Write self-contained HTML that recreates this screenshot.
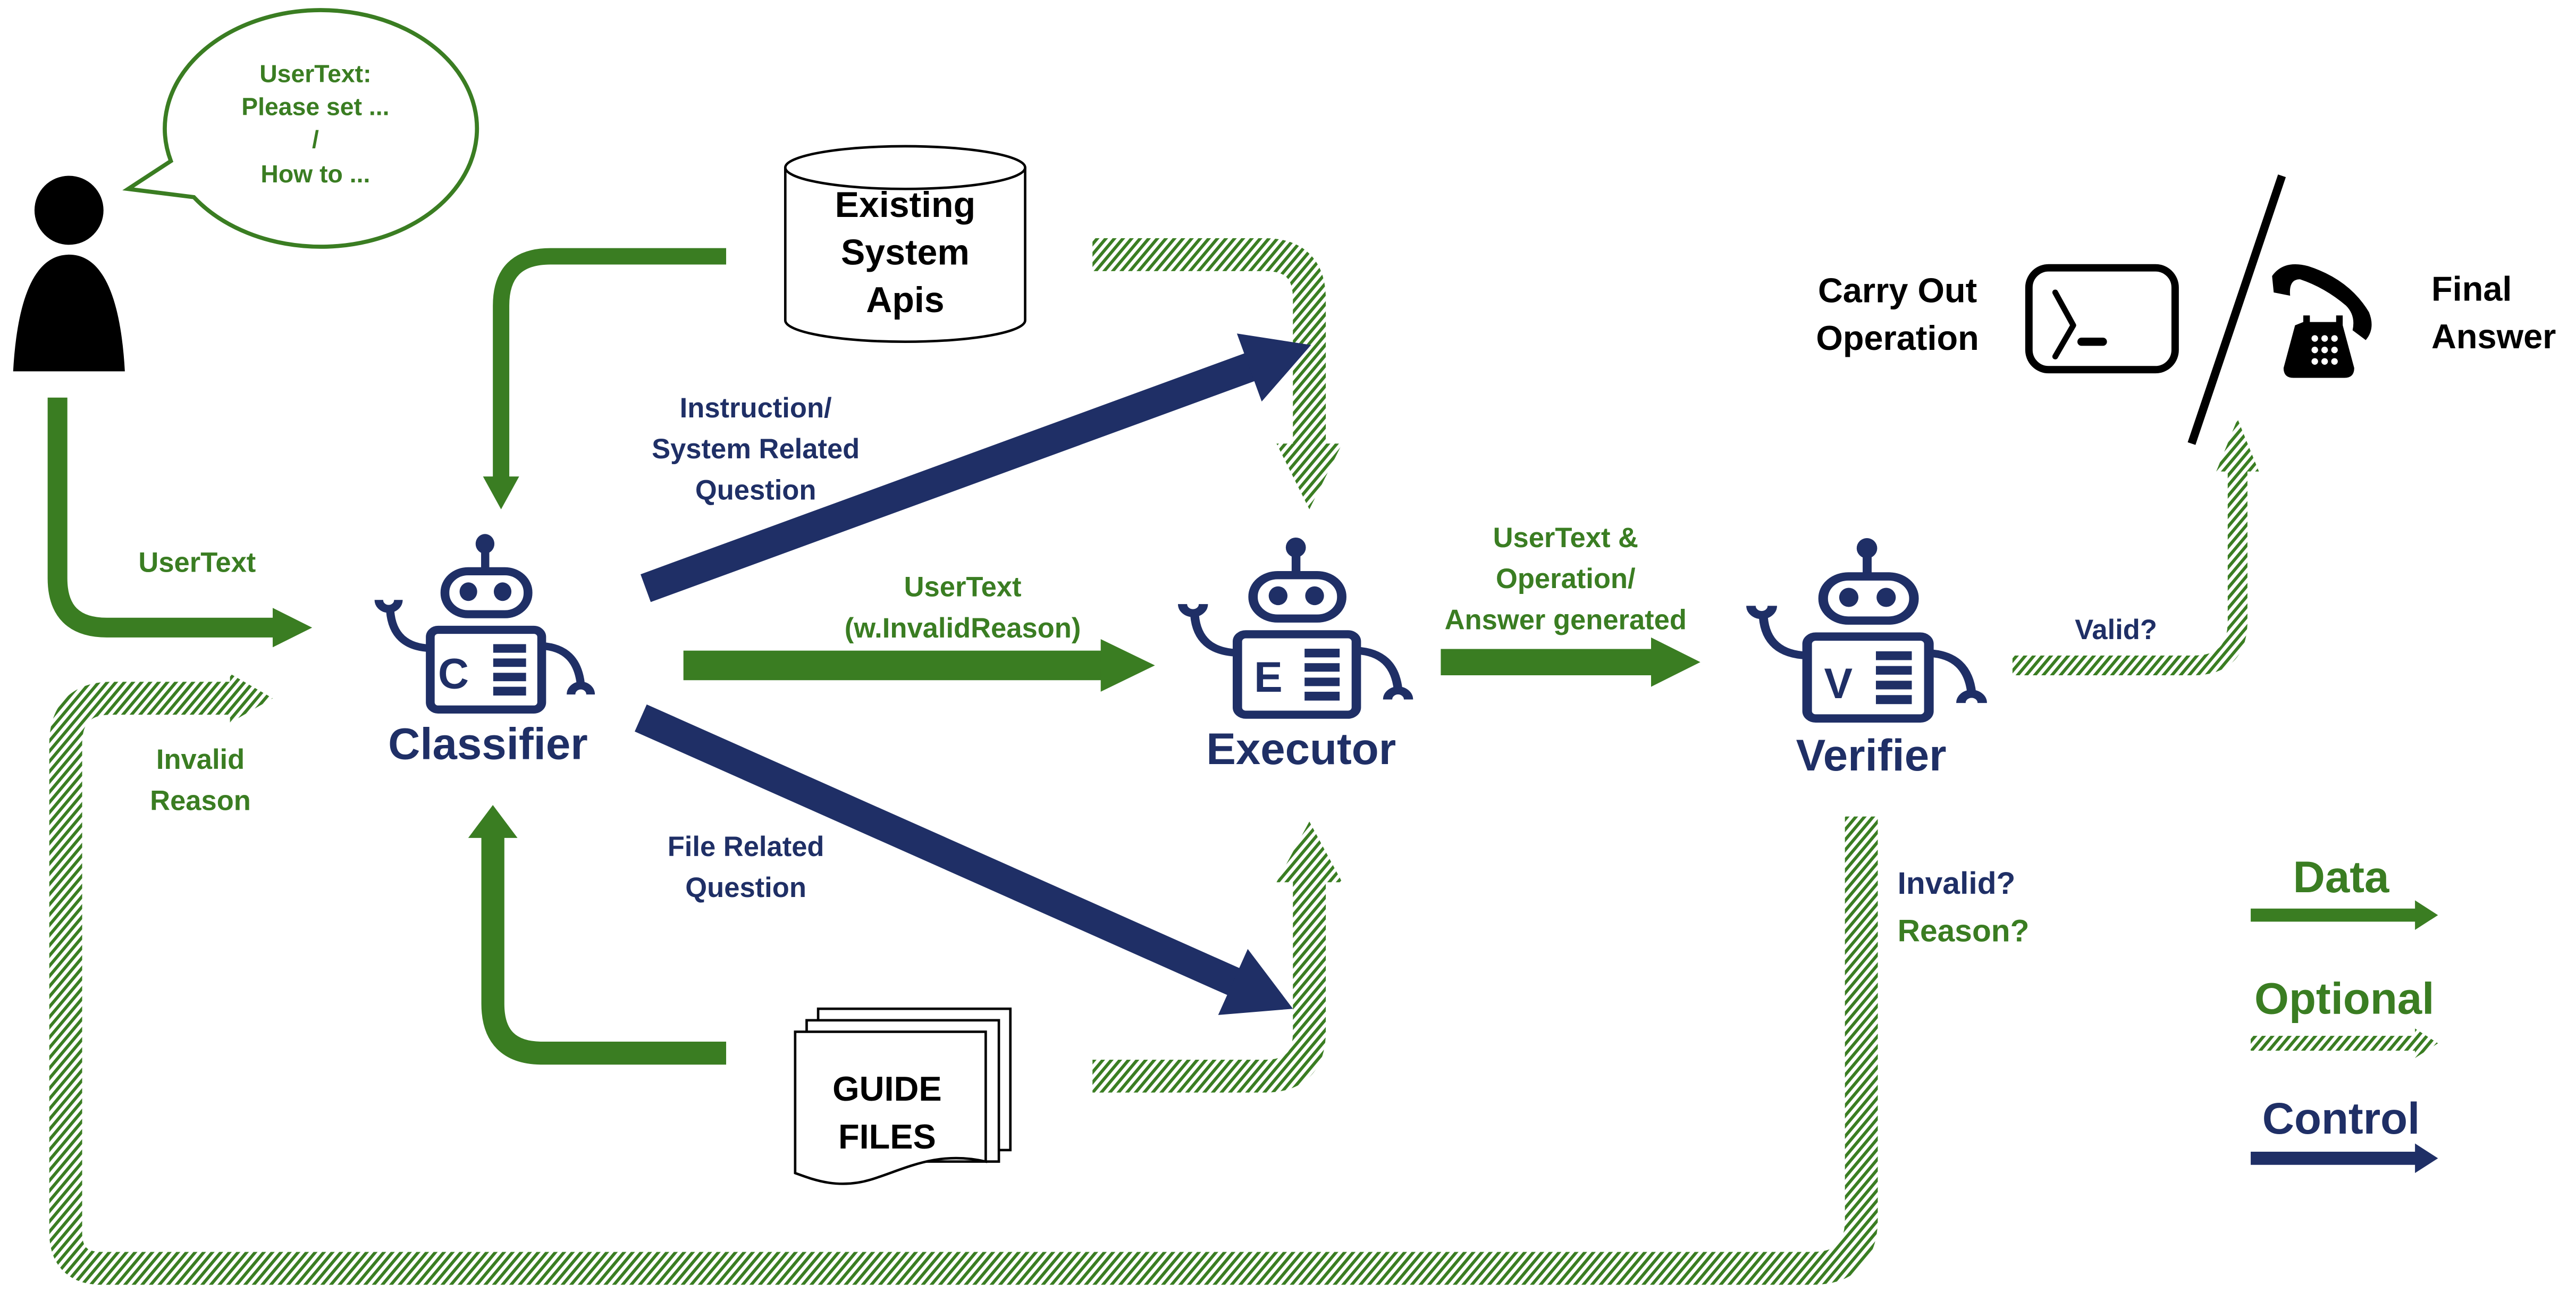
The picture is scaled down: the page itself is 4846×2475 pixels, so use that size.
<!DOCTYPE html>
<html><head><meta charset="utf-8"><style>html,body{margin:0;padding:0;background:#fff;}svg{display:block}</style></head>
<body>
<svg width="4846" height="2475" viewBox="0 0 1568 801" preserveAspectRatio="none" xmlns="http://www.w3.org/2000/svg" font-family="Liberation Sans, sans-serif" font-weight="bold">
<defs>
<pattern id="h" patternUnits="userSpaceOnUse" width="4" height="4" patternTransform="rotate(-50)">
<rect width="4" height="4" fill="#fff"/><rect width="4" height="1.9" fill="#3a7d22"/>
</pattern>
<g id="robot">
<ellipse cx="680" cy="225" rx="48" ry="55" fill="#1f2f66"/>
<rect x="660" y="255" width="42" height="110" fill="#1f2f66"/>
<rect x="475" y="378" width="425" height="240" rx="118" fill="none" stroke="#1f2f66" stroke-width="45"/>
<ellipse cx="595" cy="492" rx="45" ry="52" fill="#1f2f66"/>
<ellipse cx="770" cy="492" rx="45" ry="52" fill="#1f2f66"/>
<rect x="400" y="705" width="570" height="445" rx="40" fill="none" stroke="#1f2f66" stroke-width="45"/>
<rect x="722" y="785" width="168" height="48" fill="#1f2f66"/>
<rect x="722" y="865" width="168" height="47" fill="#1f2f66"/>
<rect x="722" y="945" width="168" height="47" fill="#1f2f66"/>
<rect x="722" y="1023" width="168" height="49" fill="#1f2f66"/>
<path d="M400 808 Q210 800 195 600" fill="none" stroke="#1f2f66" stroke-width="42"/>
<path d="M137 538 A50 50 0 0 0 237 538" fill="none" stroke="#1f2f66" stroke-width="44"/>
<path d="M970 795 Q1150 805 1170 1010" fill="none" stroke="#1f2f66" stroke-width="42"/>
<path d="M1120 1066 A50 50 0 0 1 1220 1066" fill="none" stroke="#1f2f66" stroke-width="44"/>
</g>
</defs>

<!-- person -->
<circle cx="42" cy="128" r="21" fill="#000"/>
<path d="M8 226 C10 190 18 155 42 155 C66 155 74 190 76 226 Z" fill="#000"/>
<!-- bubble -->
<path d="M78 115 L104 98 A95 72 0 1 1 118 120 Z" fill="#fff" stroke="#3a7d22" stroke-width="2.5"/>
<g fill="#3a7d22" font-size="15" text-anchor="middle">
<text x="192" y="50">UserText:</text>
<text x="192" y="70">Please set ...</text>
<text x="192" y="90">/</text>
<text x="192" y="111">How to ...</text>
</g>

<!-- solid green arrows -->
<g fill="none" stroke="#3a7d22">
<path d="M35 242 V352 Q35 382 65 382 H168" stroke-width="12"/>
<path d="M442 156 H335 Q305 156 305 186 V292" stroke-width="10"/>
<path d="M442 641 H330 Q300 641 300 611 V508" stroke-width="14"/>
<path d="M416 405 H672" stroke-width="18"/>
<path d="M877 403 H1007" stroke-width="16"/>
<path d="M1370 557 H1472" stroke-width="8"/>
</g>
<g fill="#3a7d22">
<polygon points="166,370 190,382 166,394"/>
<polygon points="294,290 305,310 316,290"/>
<polygon points="285,510 300,490 315,510"/>
<polygon points="670,389 703,405 670,421"/>
<polygon points="1005,388 1035,403 1005,418"/>
<polygon points="1470,548 1484,557 1470,566"/>
</g>

<!-- hatched arrows -->
<g fill="none" stroke="url(#h)" stroke-width="20">
<path d="M665 155 H770 Q797 155 797 182 V272"/>
<path d="M665 655 H770 Q797 655 797 628 V535"/>
<path d="M1133 497 V742 Q1133 772 1103 772 H62 Q40 772 40 750 V453 Q40 425 68 425 H142" />
<path d="M1225 405 H1335 Q1362 405 1362 378 V285" stroke-width="12"/>
<path d="M1370 635 H1472" stroke-width="9"/>
</g>
<g fill="url(#h)">
<polygon points="777,270 797,310 817,270"/>
<polygon points="777,537 797,500 817,537"/>
<polygon points="140,410 166,425 140,440"/>
<polygon points="1349,287 1362,255 1375,287"/>
<polygon points="1470,626 1484,635 1470,644"/>
</g>

<!-- navy arrows -->
<g fill="#1f2f66">
<line x1="393" y1="358" x2="762" y2="223" stroke="#1f2f66" stroke-width="18"/>
<polygon points="798,210 768,244.4 752.9,203"/>
<line x1="390" y1="437" x2="752" y2="598" stroke="#1f2f66" stroke-width="18"/>
<polygon points="787,614 741.5,617.8 759.5,577.6"/>
<rect x="1370" y="701" width="102" height="8"/>
<polygon points="1470,696 1484,705 1470,714"/>
</g>

<!-- cylinder -->
<path d="M478 102 V195 A73 13 0 0 0 624 195 V102" fill="#fff" stroke="#000" stroke-width="1.5"/>
<ellipse cx="551" cy="102" rx="73" ry="13" fill="#fff" stroke="#000" stroke-width="1.5"/>
<g fill="#000" font-size="22" text-anchor="middle">
<text x="551" y="132">Existing</text>
<text x="551" y="161">System</text>
<text x="551" y="190">Apis</text>
</g>

<!-- guide files -->
<g fill="#fff" stroke="#000" stroke-width="1.5">
<rect x="498" y="614" width="117" height="86"/>
<rect x="491" y="621" width="117" height="86"/>
<path d="M484 628 H600 V707 C570 700 550 712 530 718 C510 724 495 718 484 714 Z"/>
</g>
<g fill="#000" font-size="21" text-anchor="middle">
<text x="540" y="670">GUIDE</text>
<text x="540" y="699">FILES</text>
</g>

<!-- robots -->
<use href="#robot" transform="translate(214.3,306.5) scale(0.119,0.109)"/>
<text x="276" y="419" font-size="26" fill="#1f2f66" text-anchor="middle">C</text>
<use href="#robot" transform="translate(702.4,308.5) scale(0.127,0.110)"/>
<text x="772" y="421" font-size="26" fill="#1f2f66" text-anchor="middle">E</text>
<use href="#robot" transform="translate(1048,308.5) scale(0.130,0.112)"/>
<text x="1119" y="425" font-size="26" fill="#1f2f66" text-anchor="middle">V</text>
<g fill="#1f2f66" font-size="27" text-anchor="middle">
<text x="297" y="462">Classifier</text>
<text x="792" y="465">Executor</text>
<text x="1139" y="469">Verifier</text>
</g>

<!-- labels -->
<g font-size="17" text-anchor="middle" fill="#1f2f66">
<text x="460" y="254">Instruction/</text>
<text x="460" y="279">System Related</text>
<text x="460" y="304">Question</text>
<text x="454" y="521">File Related</text>
<text x="454" y="546">Question</text>
<text x="1288" y="389">Valid?</text>
</g>
<g font-size="17" text-anchor="middle" fill="#3a7d22">
<text x="120" y="348">UserText</text>
<text x="122" y="468">Invalid</text>
<text x="122" y="493">Reason</text>
<text x="586" y="363">UserText</text>
<text x="586" y="388">(w.InvalidReason)</text>
<text x="953" y="333">UserText &amp;</text>
<text x="953" y="358">Operation/</text>
<text x="953" y="383">Answer generated</text>
</g>
<text x="1155" y="544" font-size="19" fill="#1f2f66">Invalid?</text>
<text x="1155" y="573" font-size="19" fill="#3a7d22">Reason?</text>

<!-- top right -->
<g fill="#000" font-size="21">
<text x="1155" y="184" text-anchor="middle">Carry Out</text>
<text x="1155" y="213" text-anchor="middle">Operation</text>
<text x="1480" y="183">Final</text>
<text x="1480" y="212">Answer</text>
</g>
<rect x="1235" y="163" width="89" height="62" rx="12" fill="none" stroke="#000" stroke-width="4.5"/>
<path d="M1251 178 L1262 198 L1251 217" fill="none" stroke="#000" stroke-width="3.5" stroke-linecap="round" stroke-linejoin="round"/>
<line x1="1267" y1="208" x2="1280" y2="208" stroke="#000" stroke-width="5" stroke-linecap="round"/>
<line x1="1389" y1="107" x2="1334" y2="270" stroke="#000" stroke-width="5"/>
<path d="M1383 168 Q1390 158 1405 162 Q1430 170 1442 190 Q1446 200 1440 207 L1432 201 Q1434 192 1428 186 Q1415 175 1400 170 Q1393 170 1394 180 L1384 178 Z" fill="#000"/>
<path d="M1402 196 V192 H1406 V196 H1422 V192 H1426 V198 L1433 224 Q1433 230 1427 230 H1396 Q1390 230 1390 224 L1397 198 Z" fill="#000"/>
<g fill="#fff">
<circle cx="1409" cy="206" r="2"/><circle cx="1415" cy="206" r="2"/><circle cx="1421" cy="206" r="2"/>
<circle cx="1409" cy="213" r="2"/><circle cx="1415" cy="213" r="2"/><circle cx="1421" cy="213" r="2"/>
<circle cx="1409" cy="220" r="2"/><circle cx="1415" cy="220" r="2"/><circle cx="1421" cy="220" r="2"/>
</g>

<!-- legend -->
<g font-size="27" text-anchor="middle">
<text x="1425" y="543" fill="#3a7d22">Data</text>
<text x="1427" y="617" fill="#3a7d22">Optional</text>
<text x="1425" y="690" fill="#1f2f66">Control</text>
</g>
</svg>
</body></html>
